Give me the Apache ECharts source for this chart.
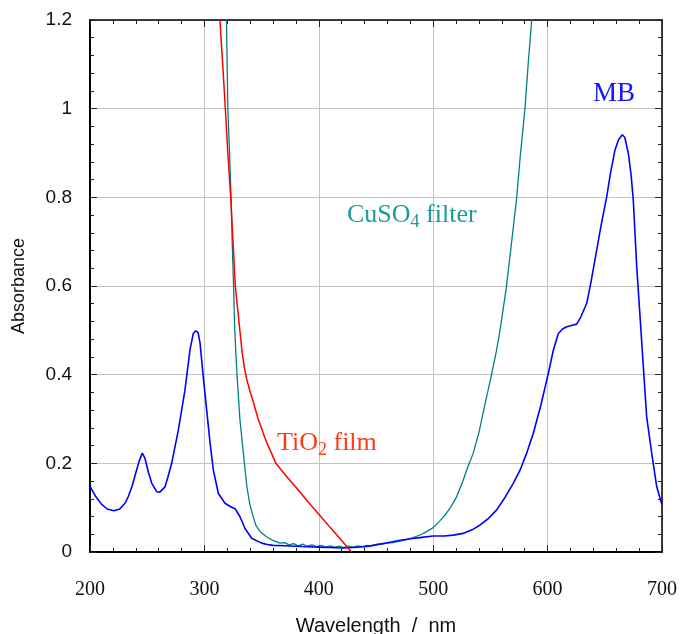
<!DOCTYPE html>
<html>
<head>
<meta charset="utf-8">
<script src="https://cdn.jsdelivr.net/npm/echarts@6/dist/echarts.min.js"></script>
<style>
html,body{margin:0;padding:0;background:#fff;}
#chart{width:680px;height:634px;}
</style>
</head>
<body>
<div id="chart"></div>
<script>
// ---- data ----
const xTicks = [200, 300, 400, 500, 600, 700];
const yTicks = [0, 0.2, 0.4, 0.6, 0.8, 1, 1.2];

const mbWl  = [200,205,210,215,221,226,230.6,233.5,237,240,243,245.7,248,251,254,258.3,261,265.6,268,271.4,277.2,283,287.4,290.3,292.4,294.5,296.2,299,302,305,307.8,312.2,318,323,327,331,335.5,341.3,350,355,360,370,380,390,400,410,420,430,440,450,460,470,480,490,500,510,517.6,526,534,541,548,555.5,562,570,576,581.7,587.5,594,600.3,605,609.4,613,616.7,621,625.4,629,634.2,638,642.9,647,651.6,655,658.9,662,665.3,667.5,670.6,673,674.9,677.9,680.8,683.7,686.6,691,695.4,700];
const mbAbs = [0.148,0.125,0.108,0.097,0.093,0.097,0.11,0.125,0.15,0.178,0.205,0.223,0.212,0.18,0.155,0.136,0.135,0.147,0.168,0.2,0.275,0.365,0.456,0.493,0.499,0.495,0.471,0.395,0.32,0.245,0.185,0.132,0.11,0.102,0.097,0.08,0.053,0.031,0.02,0.017,0.015,0.014,0.013,0.012,0.011,0.01,0.009,0.01,0.012,0.016,0.021,0.026,0.03,0.033,0.036,0.036,0.038,0.042,0.05,0.061,0.075,0.095,0.12,0.155,0.185,0.223,0.268,0.33,0.399,0.455,0.493,0.503,0.508,0.511,0.514,0.53,0.561,0.61,0.681,0.74,0.8,0.855,0.907,0.93,0.941,0.935,0.899,0.85,0.794,0.644,0.531,0.418,0.305,0.223,0.147,0.106];

const tioWl  = [312,313.6,316,318.3,320.5,323,325,327,329,331,333,335,337,339.5,342,347,354,362.5,370,380,390,400,410,420,428.5];
const tioAbs = [1.32,1.2,1.1,1.0,0.9,0.8,0.7,0.6,0.55,0.5,0.45,0.415,0.39,0.365,0.345,0.3,0.25,0.2,0.176,0.146,0.115,0.085,0.055,0.026,0.0];

const cuWl  = [318,319.3,320.5,322,323.3,324.4,325.5,326.5,328.5,331,333,335,337,339.5,342,345,349,354,360,366,370,374,378,382,386,390,394,398,402,406,410,414,418,422,426,430,434,438,442,446,450,455,460,465,470,475,480,485,490,495,500,505,510,515,520,526,530,535,540,545,551,555,558.4,564,568.6,573,576,580.2,583,586.1,588];
const cuAbs = [1.35,1.2,1.0,0.9,0.8,0.69,0.6,0.5,0.4,0.3,0.25,0.2,0.15,0.11,0.085,0.06,0.045,0.035,0.026,0.02,0.021,0.016,0.019,0.014,0.018,0.013,0.016,0.012,0.015,0.011,0.014,0.011,0.013,0.01,0.013,0.011,0.014,0.012,0.015,0.014,0.017,0.018,0.02,0.021,0.024,0.027,0.03,0.035,0.04,0.047,0.055,0.068,0.082,0.1,0.122,0.16,0.19,0.223,0.27,0.33,0.4,0.45,0.5,0.598,0.7,0.8,0.89,1.0,1.1,1.2,1.3];

const pairs = (xs, ys) => xs.map((x, i) => [x, ys[i]]);

const chart = echarts.init(document.getElementById('chart'), null, {renderer: 'canvas'});

const sans = 'Liberation Sans, Arial, sans-serif';
const serif = 'Liberation Serif, Times New Roman, serif';

function baseAxis(extra) {
  return Object.assign({
    type: 'value',
    axisLine: {show: true, onZero: false, lineStyle: {color: '#000', width: 1.5}},
    axisTick: {show: true, inside: true, length: 7, lineStyle: {color: '#222', width: 1}},
    minorTick: {show: true, splitNumber: 5, length: 4, lineStyle: {color: '#222', width: 1}},
    splitLine: {show: false},
    axisLabel: {show: false}
  }, extra);
}

const option = {
  animation: false,
  backgroundColor: '#fff',
  grid: {left: 90, right: 18, top: 20, bottom: 82, containLabel: false, outerBoundsMode: 'none'},
  xAxis: [
    baseAxis({
      position: 'bottom', min: xTicks[0], max: xTicks[xTicks.length - 1], interval: 100,
      axisLine: {show: true, onZero: false, lineStyle: {color: '#000', width: 2}},
      splitLine: {show: true, lineStyle: {color: '#c4c4c4', width: 1}},
      axisLabel: {show: true, margin: 28, fontFamily: serif, fontSize: 20, color: '#111'},
      name: 'Wavelength  /  nm', nameLocation: 'middle', nameGap: 64,
      nameTextStyle: {fontFamily: sans, fontSize: 20, color: '#111'}
    }),
    baseAxis({position: 'top', min: xTicks[0], max: xTicks[xTicks.length - 1], interval: 100})
  ],
  yAxis: [
    baseAxis({
      position: 'left', min: yTicks[0], max: yTicks[yTicks.length - 1], interval: 0.2,
      axisLine: {show: true, onZero: false, lineStyle: {color: '#000', width: 2}},
      splitLine: {show: true, lineStyle: {color: '#c4c4c4', width: 1}},
      axisLabel: {show: true, margin: 18, fontFamily: sans, fontSize: 19, color: '#111',
        formatter: v => String(Math.round(v * 10) / 10)},
      name: 'Absorbance', nameLocation: 'middle', nameGap: 62,
      nameTextStyle: {fontFamily: sans, fontSize: 18, color: '#111'}
    }),
    baseAxis({position: 'right', min: yTicks[0], max: yTicks[yTicks.length - 1], interval: 0.2})
  ],
  series: [
    {type: 'line', name: 'CuSO4 filter', data: pairs(cuWl, cuAbs), showSymbol: false, symbol: 'none',
     lineStyle: {color: '#008080', width: 1.3}, clip: true, z: 2},
    {type: 'line', name: 'MB', data: pairs(mbWl, mbAbs), showSymbol: false, symbol: 'none',
     lineStyle: {color: '#0000ff', width: 1.6}, clip: true, z: 3},
    {type: 'line', name: 'TiO2 film', data: pairs(tioWl, tioAbs), showSymbol: false, symbol: 'none',
     lineStyle: {color: '#ff0000', width: 1.5}, clip: true, z: 4}
  ],
  graphic: [
    {type: 'text', left: 593, top: 80, z: 10, style: {
      text: 'MB', fontFamily: serif, fontSize: 27, fill: '#1414ff'}},
    {type: 'text', left: 347, top: 199, z: 10, style: {
      text: '{m|CuSO}{s|4}{m| filter}', fontFamily: serif, fill: '#1a9c9c',
      rich: {
        m: {fontFamily: serif, fontSize: 26, lineHeight: 30, fill: '#1a9c9c'},
        s: {fontFamily: serif, fontSize: 18, lineHeight: 18, padding: [14, 0, 0, 0], fill: '#1a9c9c'}
      }}},
    {type: 'text', left: 277, top: 427, z: 10, style: {
      text: '{m|TiO}{s|2}{m| film}', fontFamily: serif, fill: '#ff3a14',
      rich: {
        m: {fontFamily: serif, fontSize: 26, lineHeight: 30, fill: '#ff3a14'},
        s: {fontFamily: serif, fontSize: 18, lineHeight: 18, padding: [14, 0, 0, 0], fill: '#ff3a14'}
      }}}
  ]
};
chart.setOption(option);
</script>
</body>
</html>
